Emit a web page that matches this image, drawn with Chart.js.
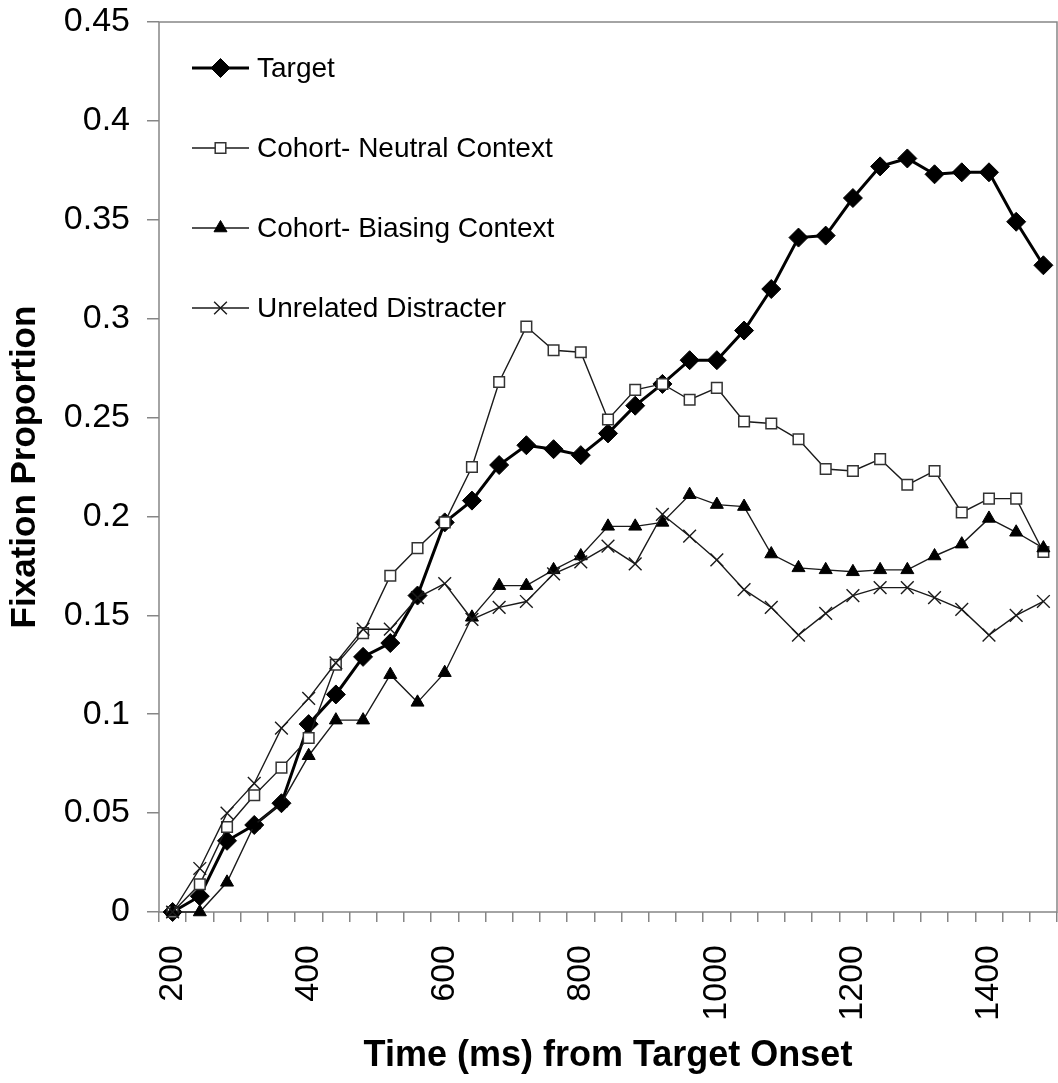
<!DOCTYPE html>
<html>
<head>
<meta charset="utf-8">
<title>Fixation Proportion over Time</title>
<script src="https://cdn.jsdelivr.net/npm/chart.js@4.4.1/dist/chart.umd.min.js"></script>
<style>
  html, body { margin: 0; padding: 0; background: #fff; overflow: hidden; }
  #wrap { width: 1058px; height: 1083px; }
  canvas { display: block; }
</style>
</head>
<body>
<div id="wrap"><canvas id="chart" width="1058" height="1083"></canvas></div>
<script>
// Time bins (ms from target onset)
const times = [200, 240, 280, 320, 360, 400, 440, 480, 520, 560, 600, 640, 680, 720, 760, 800,
               840, 880, 920, 960, 1000, 1040, 1080, 1120, 1160, 1200, 1240, 1280, 1320, 1360,
               1400, 1440, 1480];

// Fixation proportions per condition
const target = [0, 0.008, 0.036, 0.044, 0.055, 0.095, 0.110, 0.129, 0.136, 0.160, 0.197, 0.208,
                0.226, 0.236, 0.234, 0.231, 0.242, 0.256, 0.267, 0.279, 0.279, 0.294, 0.315,
                0.341, 0.342, 0.361, 0.377, 0.381, 0.373, 0.374, 0.374, 0.349, 0.327];

const cohortNeutral = [0, 0.014, 0.043, 0.059, 0.073, 0.088, 0.125, 0.141, 0.170, 0.184, 0.197,
                       0.225, 0.268, 0.296, 0.284, 0.283, 0.249, 0.264, 0.267, 0.259, 0.265,
                       0.248, 0.247, 0.239, 0.224, 0.223, 0.229, 0.216, 0.223, 0.202, 0.209,
                       0.209, 0.182];

const cohortBiasing = [0, 0, 0.015, 0.044, 0.055, 0.079, 0.097, 0.097, 0.120, 0.106, 0.121,
                       0.149, 0.165, 0.165, 0.173, 0.180, 0.195, 0.195, 0.197, 0.211, 0.206,
                       0.205, 0.181, 0.174, 0.173, 0.172, 0.173, 0.173, 0.180, 0.186, 0.199,
                       0.192, 0.184];

const unrelated = [0, 0.022, 0.050, 0.065, 0.093, 0.108, 0.126, 0.143, 0.143, 0.159, 0.166,
                   0.148, 0.154, 0.157, 0.171, 0.177, 0.185, 0.176, 0.201, 0.190, 0.178, 0.163,
                   0.154, 0.140, 0.151, 0.160, 0.164, 0.164, 0.159, 0.153, 0.140, 0.150, 0.157];

const seriesNames = ['Target', 'Cohort- Neutral Context', 'Cohort- Biasing Context', 'Unrelated Distracter'];
const yTickLabels = ['0', '0.05', '0.1', '0.15', '0.2', '0.25', '0.3', '0.35', '0.4', '0.45'];

const FONT = '"Liberation Sans", Arial, Helvetica, sans-serif';
Chart.defaults.font.family = FONT;
Chart.defaults.color = '#000';

const AXIS_GREY = '#868686';

// Grey box around the plotting area
const plotFrame = {
  id: 'plotFrame',
  beforeDatasetsDraw(chart) {
    const { ctx, chartArea: a } = chart;
    ctx.save();
    ctx.strokeStyle = AXIS_GREY;
    ctx.lineWidth = 1.5;
    ctx.strokeRect(a.left, a.top, a.right - a.left, a.bottom - a.top);
    ctx.restore();
  }
};

// Line-and-marker legend inside the upper left of the plot
const lineLegend = {
  id: 'lineLegend',
  afterDatasetsDraw(chart) {
    const { ctx, chartArea: a } = chart;
    chart.data.datasets.forEach((ds, i) => {
      const y = a.top + 46 + i * 80;
      const x0 = a.left + 33, x1 = a.left + 90;
      ctx.save();
      ctx.strokeStyle = ds.borderColor;
      ctx.lineWidth = ds.borderWidth;
      ctx.beginPath();
      ctx.moveTo(x0, y);
      ctx.lineTo(x1, y);
      ctx.stroke();
      ctx.fillStyle = ds.pointBackgroundColor;
      ctx.strokeStyle = ds.pointBorderColor;
      ctx.lineWidth = ds.pointBorderWidth;
      Chart.helpers.drawPoint(ctx, {
        pointStyle: ds.pointStyle, rotation: 0,
        radius: ds.pointRadius, borderWidth: ds.pointBorderWidth
      }, (x0 + x1) / 2, y);
      ctx.fillStyle = '#000';
      ctx.font = '28px ' + FONT;
      ctx.textBaseline = 'middle';
      ctx.textAlign = 'left';
      ctx.fillText(ds.label, a.left + 98, y + 1);
      ctx.restore();
    });
  }
};

// Keep the plot box at fixed edges: no extra room reserved for label overhang
function noOverhang(scale) {
  scale.paddingTop = 0;
  scale.paddingBottom = 0;
  scale.paddingLeft = 0;
  scale.paddingRight = 0;
}

new Chart(document.getElementById('chart'), {
  type: 'line',
  data: {
    labels: times,
    datasets: [
      {
        label: seriesNames[0], data: target, order: 4,
        borderColor: '#000', borderWidth: 3,
        pointStyle: 'rectRot', pointRadius: 9.5,
        pointBackgroundColor: '#000', pointBorderColor: '#000', pointBorderWidth: 1,
        tension: 0, clip: false
      },
      {
        label: seriesNames[1], data: cohortNeutral, order: 3,
        borderColor: '#1a1a1a', borderWidth: 1.4,
        pointStyle: 'rect', pointRadius: 7.5,
        pointBackgroundColor: '#fff', pointBorderColor: '#333', pointBorderWidth: 1.5,
        tension: 0, clip: false
      },
      {
        label: seriesNames[2], data: cohortBiasing, order: 2,
        borderColor: '#1a1a1a', borderWidth: 1.4,
        pointStyle: 'triangle', pointRadius: 7.5,
        pointBackgroundColor: '#000', pointBorderColor: '#000', pointBorderWidth: 1,
        tension: 0, clip: false
      },
      {
        label: seriesNames[3], data: unrelated, order: 1,
        borderColor: '#1a1a1a', borderWidth: 1.4,
        pointStyle: 'crossRot', pointRadius: 9,
        pointBackgroundColor: '#000', pointBorderColor: '#1a1a1a', pointBorderWidth: 1.4,
        tension: 0, clip: false
      }
    ]
  },
  options: {
    responsive: false,
    animation: false,
    events: [],
    layout: { autoPadding: false, padding: { top: 22, right: 1, left: 0, bottom: 0 } },
    plugins: { legend: { display: false }, tooltip: { enabled: false } },
    scales: {
      x: {
        type: 'category',
        offset: true,
        grid: { offset: true, drawOnChartArea: false, drawTicks: true, tickLength: 10,
                color: AXIS_GREY, lineWidth: 1.5 },
        border: { display: false },
        ticks: {
          autoSkip: false, minRotation: 90, maxRotation: 90, padding: 23,
          font: { size: 34 }, color: '#000',
          callback: (v, i) => (i % 5 === 0 ? String(times[i]) : '')
        },
        title: {
          display: true, text: 'Time (ms) from Target Onset', color: '#000',
          font: { size: 36, weight: 'bold' }, padding: { top: 0, bottom: 5 }
        },
        afterFit(scale) { scale.height = 171; noOverhang(scale); }
      },
      y: {
        min: 0, max: 0.45,
        grid: { drawOnChartArea: false, drawTicks: true, tickLength: 12,
                color: AXIS_GREY, lineWidth: 1.5 },
        border: { display: false },
        ticks: {
          stepSize: 0.05, padding: 17, font: { size: 34 }, color: '#000',
          callback: (v, i) => yTickLabels[i]
        },
        title: {
          display: true, text: 'Fixation Proportion', color: '#000',
          font: { size: 35, weight: 'bold' }, padding: { top: 4, bottom: 0 }
        },
        afterFit(scale) { scale.width = 159; noOverhang(scale); }
      }
    }
  },
  plugins: [plotFrame, lineLegend]
});
</script>
</body>
</html>
